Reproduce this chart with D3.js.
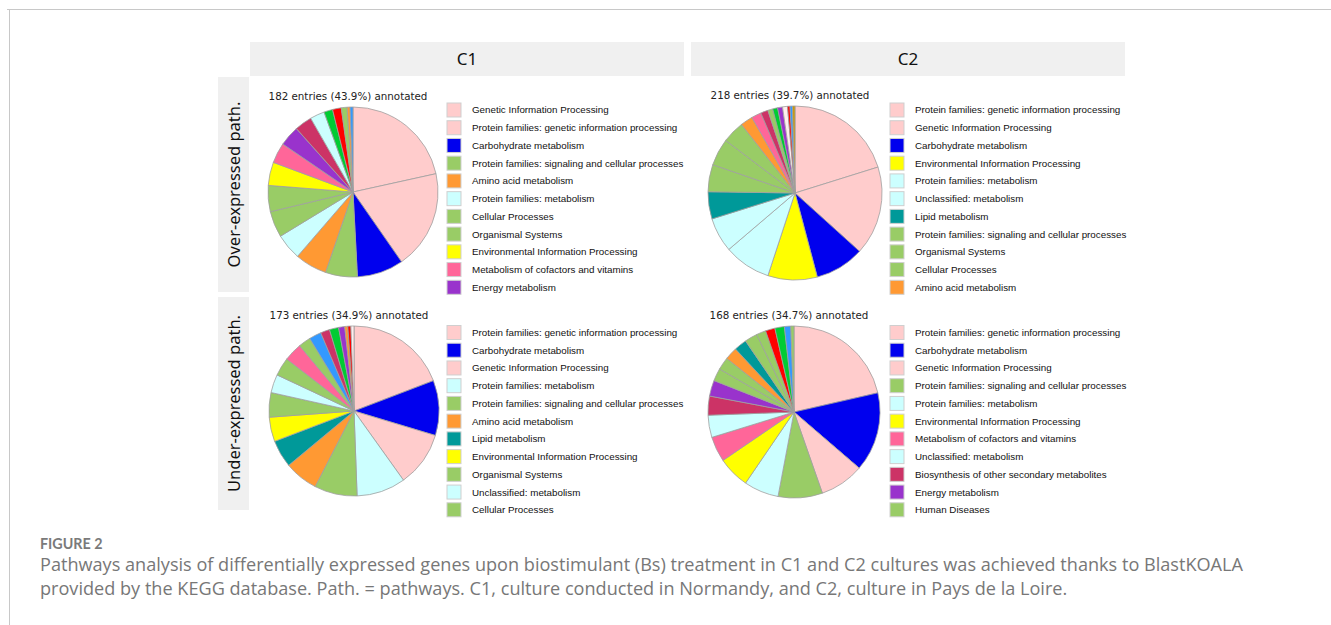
<!DOCTYPE html>
<html>
<head>
<meta charset="utf-8">
<script src="https://cdn.jsdelivr.net/npm/d3@7"></script>
<style>
  body { margin: 0; background: #fff; }
  svg { display: block; }
</style>
</head>
<body>
<svg id="fig" width="1331" height="625"></svg>
<script>
// column / row headers
const columns = ["C1", "C2"];
const rows = ["Over-expressed path.", "Under-expressed path."];

// pie titles
const titles = [
  "182 entries (43.9%) annotated",
  "218 entries (39.7%) annotated",
  "173 entries (34.9%) annotated",
  "168 entries (34.7%) annotated"
];

// C1, over-expressed
const c1OverNames = ["Genetic Information Processing", "Protein families: genetic information processing",
  "Carbohydrate metabolism", "Protein families: signaling and cellular processes", "Amino acid metabolism",
  "Protein families: metabolism", "Cellular Processes", "Organismal Systems", "Environmental Information Processing",
  "Metabolism of cofactors and vitamins", "Energy metabolism", "Biosynthesis of other secondary metabolites",
  "Unclassified: metabolism", "Metabolism of terpenoids and polyketides", "Nucleotide metabolism",
  "Human Diseases", "Metabolism of other amino acids", "Glycan biosynthesis and metabolism"];
const c1OverCounts = [39, 34, 16, 11, 11, 9, 9, 9, 8, 7, 7, 6, 5, 3, 3, 2, 1, 1];

// C2, over-expressed
const c2OverNames = ["Protein families: genetic information processing", "Genetic Information Processing",
  "Carbohydrate metabolism", "Environmental Information Processing", "Protein families: metabolism",
  "Unclassified: metabolism", "Lipid metabolism", "Protein families: signaling and cellular processes",
  "Organismal Systems", "Cellular Processes", "Amino acid metabolism", "Metabolism of cofactors and vitamins",
  "Biosynthesis of other secondary metabolites", "Human Diseases", "Metabolism of terpenoids and polyketides",
  "Energy metabolism", "Unclassified: genetic information processing", "Nucleotide metabolism",
  "Glycan biosynthesis and metabolism", "Xenobiotics biodegradation and metabolism"];
const c2OverCounts = [44, 36, 20, 20, 19, 14, 11, 11, 11, 9, 5, 4, 3, 2, 2, 2, 2, 1, 1, 1];

// C1, under-expressed
const c1UnderNames = ["Protein families: genetic information processing", "Carbohydrate metabolism",
  "Genetic Information Processing", "Protein families: metabolism",
  "Protein families: signaling and cellular processes", "Amino acid metabolism", "Lipid metabolism",
  "Environmental Information Processing", "Organismal Systems", "Unclassified: metabolism", "Cellular Processes",
  "Metabolism of cofactors and vitamins", "Human Diseases", "Glycan biosynthesis and metabolism",
  "Biosynthesis of other secondary metabolites", "Metabolism of terpenoids and polyketides", "Energy metabolism",
  "Metabolism of other amino acids", "Nucleotide metabolism", "Unclassified: genetic information processing"];
const c1UnderCounts = [33, 18, 18, 16, 14, 11, 9, 8, 8, 6, 6, 6, 4, 4, 3, 3, 2, 1, 1, 1];

// C2, under-expressed
const c2UnderNames = ["Protein families: genetic information processing", "Carbohydrate metabolism",
  "Genetic Information Processing", "Protein families: signaling and cellular processes",
  "Protein families: metabolism", "Environmental Information Processing", "Metabolism of cofactors and vitamins",
  "Unclassified: metabolism", "Biosynthesis of other secondary metabolites", "Energy metabolism",
  "Human Diseases", "Cellular Processes", "Amino acid metabolism", "Lipid metabolism", "Organismal Systems",
  "Unclassified: signaling and cellular processes", "Nucleotide metabolism",
  "Metabolism of terpenoids and polyketides", "Glycan biosynthesis and metabolism", "Protein families: organismal systems"];
const c2UnderCounts = [36, 25, 14, 14, 11, 10, 8, 7, 6, 5, 4, 4, 4, 4, 4, 3, 3, 3, 2, 1];

// caption
const captionHead = "FIGURE 2";
const captionLines = [
  "Pathways analysis of differentially expressed genes upon biostimulant (Bs) treatment in C1 and C2 cultures was achieved thanks to BlastKOALA",
  "provided by the KEGG database. Path. = pathways. C1, culture conducted in Normandy, and C2, culture in Pays de la Loire."
];

// KEGG category colours
const keggColors = {
  "Genetic Information Processing": "#ffcccc",
  "Protein families: genetic information processing": "#ffcccc",
  "Unclassified: genetic information processing": "#ffeeee",
  "Carbohydrate metabolism": "#0000ee",
  "Energy metabolism": "#9933cc",
  "Lipid metabolism": "#009999",
  "Nucleotide metabolism": "#ff0000",
  "Amino acid metabolism": "#ff9933",
  "Metabolism of other amino acids": "#ff9933",
  "Glycan biosynthesis and metabolism": "#3399ff",
  "Metabolism of cofactors and vitamins": "#ff6699",
  "Metabolism of terpenoids and polyketides": "#00cc33",
  "Biosynthesis of other secondary metabolites": "#cc3366",
  "Xenobiotics biodegradation and metabolism": "#cc9900",
  "Protein families: metabolism": "#ccffff",
  "Unclassified: metabolism": "#ccffff",
  "Environmental Information Processing": "#ffff00",
  "Cellular Processes": "#99cc66",
  "Organismal Systems": "#99cc66",
  "Human Diseases": "#99cc66",
  "Protein families: signaling and cellular processes": "#99cc66",
  "Unclassified: signaling and cellular processes": "#99cc66",
  "Protein families: organismal systems": "#99cc66"
};

const panels = [
  {names: c1OverNames, counts: c1OverCounts, title: titles[0], cx: 353, cy: 192, r: 85, lx: 447, ly: 110},
  {names: c2OverNames, counts: c2OverCounts, title: titles[1], cx: 795, cy: 193, r: 87, lx: 890, ly: 110},
  {names: c1UnderNames, counts: c1UnderCounts, title: titles[2], cx: 354, cy: 411, r: 85, lx: 447, ly: 332.5},
  {names: c2UnderNames, counts: c2UnderCounts, title: titles[3], cx: 794, cy: 412, r: 86, lx: 890, ly: 332.5}
];

const drawFrame = (svg)=>{
    svg.append("rect").attr("width", 1331).attr("height", 625).attr("fill", "#fff");
    svg.append("line").attr("x1", 7).attr("x2", 1331).attr("y1", 9.5).attr("y2", 9.5)
        .attr("stroke", "#c8c8c8");
    svg.append("line").attr("x1", 9.5).attr("x2", 9.5).attr("y1", 9).attr("y2", 625)
        .attr("stroke", "#c8c8c8");

    // column headers
    let colX = d3.scaleOrdinal().domain(columns).range([250, 691]);
    columns.forEach((c)=>{
        svg.append("rect").attr("x", colX(c)).attr("y", 42).attr("width", 434).attr("height", 34)
            .attr("fill", "#f0f0f0");
        svg.append("text").attr("x", colX(c) + 217).attr("y", 59).attr("dy", "0.35em")
            .attr("text-anchor", "middle").attr("font-family", "Noto Sans").attr("font-size", "17px")
            .attr("fill", "#111").text(c);
    });

    // row headers
    let rowY = d3.scaleOrdinal().domain(rows).range([[77, 292], [297, 510]]);
    rows.forEach((r)=>{
        let [y0, y1] = rowY(r);
        svg.append("rect").attr("x", 218).attr("y", y0).attr("width", 31).attr("height", y1 - y0)
            .attr("fill", "#f0f0f0");
        svg.append("text")
            .attr("transform", "translate(234," + (y0 + y1) / 2 + ") rotate(-90)")
            .attr("dy", "0.35em").attr("text-anchor", "middle")
            .attr("font-family", "Noto Sans").attr("font-size", "16.5px").attr("fill", "#111")
            .text(r);
    });
}

const drawPie = (svg, p)=>{
    let data = p.names.map((n, i)=>({name: n, count: p.counts[i]}));
    let pie = d3.pie().sort(null).value((d)=>d.count);
    let arc = d3.arc().innerRadius(0).outerRadius(p.r);

    let g = svg.append("g").attr("transform", "translate(" + p.cx + "," + p.cy + ")");
    g.selectAll("path")
    .data(pie(data))
    .enter().append("path")
    .attr("d", arc)
    .attr("fill", (d)=>keggColors[d.data.name])
    .attr("stroke", "#a0a0a0")
    .attr("stroke-width", 0.8);

    svg.append("text")
    .attr("x", p.cx - 5).attr("y", p.cy - p.r - 11).attr("dy", "0.35em")
    .attr("text-anchor", "middle").attr("font-family", "DejaVu Sans").attr("font-size", "10.3px")
    .attr("fill", "#222").text(p.title);

    // legend: top 11 categories
    let legendData = data.slice(0, 11);
    let yScale = d3.scaleLinear().domain([0, 10]).range([p.ly, p.ly + 177.3]);
    let lg = svg.append("g");
    lg.selectAll("rect")
    .data(legendData)
    .enter().append("rect")
    .attr("x", p.lx).attr("y", (d, i)=>yScale(i) - 7)
    .attr("width", 14).attr("height", 14)
    .attr("fill", (d)=>keggColors[d.name])
    .attr("stroke", "#cfcfcf").attr("stroke-width", 1);

    lg.selectAll("text")
    .data(legendData)
    .enter().append("text")
    .attr("x", p.lx + 25).attr("y", (d, i)=>yScale(i)).attr("dy", "0.35em")
    .attr("font-family", "Liberation Sans").attr("font-size", "9.8px").attr("fill", "#111")
    .text((d)=>d.name);
}

const drawCaption = (svg)=>{
    svg.append("text").attr("x", 40).attr("y", 549).attr("font-family", "Lato")
        .attr("font-weight", "bold").attr("font-size", "14.3px").attr("fill", "#7a7a7a").text(captionHead);

    let caption = svg.selectAll(".caption")
    .data(captionLines)
    .enter().append("text")
    .attr("class", "caption")
    .attr("x", 40).attr("y", (d, i)=>571 + i * 24)
    .attr("font-family", "Open Sans").attr("font-size", "16px").attr("fill", "#777")
    .text((d)=>d);

    // fit first line to the width of the original caption column
    let len = caption.node().getComputedTextLength();
    caption.attr("font-size", (16 * 1204 / len).toFixed(2) + "px");
}

window.onload = function(){
    let svg = d3.select("#fig");
    drawFrame(svg);
    panels.forEach((p)=>drawPie(svg, p));
    drawCaption(svg);
}
</script>
</body>
</html>
